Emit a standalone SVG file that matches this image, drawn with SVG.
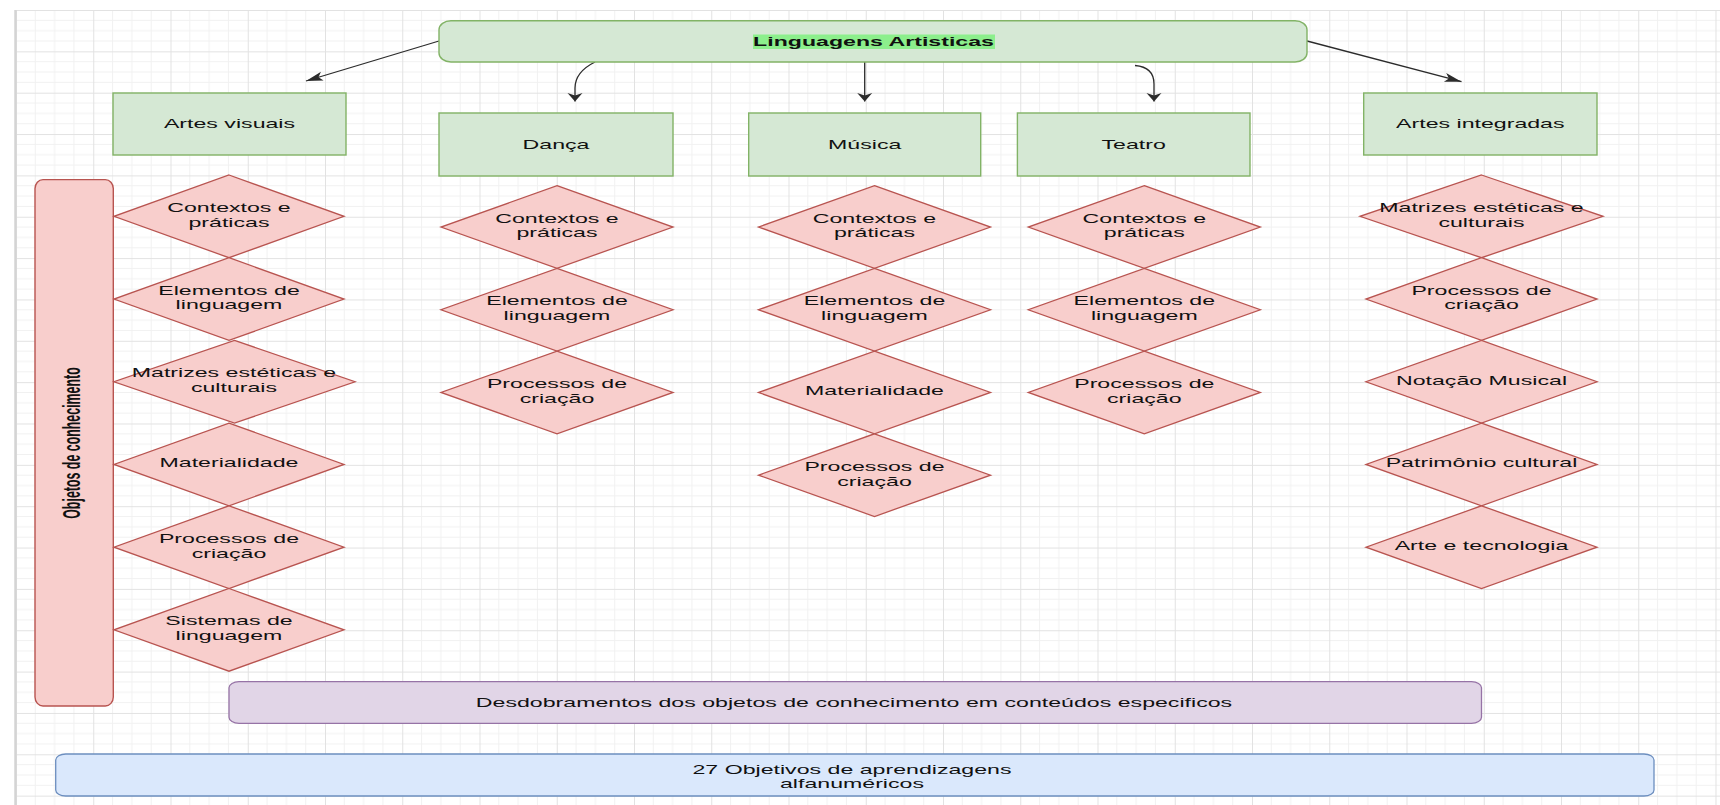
<svg xmlns="http://www.w3.org/2000/svg" width="1720" height="805" viewBox="0 0 1720 805">
<defs>
<pattern id="grid" x="16" y="10" width="77.25" height="41.35" patternUnits="userSpaceOnUse">
<path d="M19.31 0V41.35M38.63 0V41.35M57.94 0V41.35M0 10.34H77.25M0 20.68H77.25M0 31.01H77.25" stroke="#f1f1f1" stroke-width="1" fill="none"/>
<path d="M0.5 0V41.35M0 0.5H77.25" stroke="#e2e2e2" stroke-width="1" fill="none"/>
</pattern>
<marker id="arrV" viewBox="-10 -8 11 16" refX="0" refY="0" markerWidth="11" markerHeight="16" markerUnits="userSpaceOnUse" orient="auto">
<path d="M0 0L-8.5 -7.5L-6 0L-8.5 7.5Z" fill="#2b2b2b"/>
</marker>
<marker id="arrD" viewBox="-20 -6 21 12" refX="0" refY="0" markerWidth="21" markerHeight="12" markerUnits="userSpaceOnUse" orient="auto">
<path d="M0 0L-17 -4.5L-13 0L-17 4.5Z" fill="#2b2b2b"/>
</marker>
<style>
.t{font-family:'Liberation Sans',Arial,sans-serif;font-size:12px;fill:#111;text-anchor:middle}
.b{font-weight:bold}
.g{fill:#d5e8d4;stroke:#82b366;stroke-width:1.4}
.d{fill:#f8cecc;stroke:#b85450;stroke-width:1.3}
.p{fill:#e1d5e7;stroke:#9673a6;stroke-width:1.3}
.bl{fill:#dae8fc;stroke:#6c8ebf;stroke-width:1.3}
</style>
</defs>
<rect width="1720" height="805" fill="#fff"/>
<rect x="16" y="10" width="1704" height="795" fill="url(#grid)"/>
<line x1="15.5" y1="10" x2="15.5" y2="805" stroke="#d4d4d4" stroke-width="2.5"/>

<g id="connectors" fill="none" stroke="#2b2b2b" stroke-width="1.3">
<path d="M439 41L306 81" marker-end="url(#arrD)"/>
<path d="M595 62Q575 72 575 88L575 101.5" marker-end="url(#arrV)"/>
<path d="M864.7 62L864.7 101.5" marker-end="url(#arrV)"/>
<path d="M1135 65.5Q1154 67 1154 84L1154 101.5" marker-end="url(#arrV)"/>
<path d="M1307 41L1461.5 81.7" marker-end="url(#arrD)"/>
</g>

<g id="linguagens">
<rect class="g" x="439" y="20.7" width="868" height="41.3" rx="12" ry="9"/>
<rect x="753" y="34.5" width="242" height="14.5" fill="#8cef8c"/>
<text class="t b" transform="translate(873.5 41.7) scale(1.93 1.034)" y="4.2">Linguagens Artisticas</text>
</g>

<g id="artes-visuais">
<rect class="g" x="113" y="93" width="233" height="62"/>
<text class="t" transform="translate(229.5 124) scale(1.93 1.034)" y="4.2">Artes visuais</text>
</g>
<g id="danca">
<rect class="g" x="439" y="113" width="234" height="63"/>
<text class="t" transform="translate(556 144.5) scale(1.93 1.034)" y="4.2">Dança</text>
</g>
<g id="musica">
<rect class="g" x="748.7" y="113" width="232" height="63"/>
<text class="t" transform="translate(864.7 144.5) scale(1.93 1.034)" y="4.2">Música</text>
</g>
<g id="teatro">
<rect class="g" x="1017.4" y="113" width="232.6" height="63"/>
<text class="t" transform="translate(1133.7 144.5) scale(1.93 1.034)" y="4.2">Teatro</text>
</g>
<g id="artes-integradas">
<rect class="g" x="1363.7" y="93" width="233.3" height="62"/>
<text class="t" transform="translate(1480.3 124) scale(1.93 1.034)" y="4.2">Artes integradas</text>
</g>

<g id="objetos-conhecimento">
<rect x="35" y="179.6" width="78.3" height="526.4" rx="8" ry="9" fill="#f8cecc" stroke="#b85450" stroke-width="1.4"/>
<text class="t b" transform="translate(72 443) rotate(-90) scale(1.034 1.93)" y="4.2">Objetos de conhecimento</text>
</g>

<!-- Artes visuais diamonds -->
<g id="av-contextos">
<polygon class="d" points="229,175 344,216.35 229,257.7 114,216.35"/>
<text class="t" transform="translate(229 215) scale(1.93 1.034)"><tspan x="0" y="-3">Contextos e</tspan><tspan x="0" y="11.4">práticas</tspan></text>
</g>
<g id="av-elementos">
<polygon class="d" points="229,257.7 344,299.05 229,340.4 114,299.05"/>
<text class="t" transform="translate(229 297.7) scale(1.93 1.034)"><tspan x="0" y="-3">Elementos de</tspan><tspan x="0" y="11.4">linguagem</tspan></text>
</g>
<g id="av-matrizes">
<polygon class="d" points="234.5,340.4 355,381.75 234.5,423.1 114,381.75"/>
<text class="t" transform="translate(234 380.5) scale(1.93 1.034)"><tspan x="0" y="-3">Matrizes estéticas e</tspan><tspan x="0" y="11.4">culturais</tspan></text>
</g>
<g id="av-materialidade">
<polygon class="d" points="229,423.1 344,464.45 229,505.8 114,464.45"/>
<text class="t" transform="translate(229 463.1) scale(1.93 1.034)" y="4.2">Materialidade</text>
</g>
<g id="av-processos">
<polygon class="d" points="229,505.8 344,547.15 229,588.5 114,547.15"/>
<text class="t" transform="translate(229 545.8) scale(1.93 1.034)"><tspan x="0" y="-3">Processos de</tspan><tspan x="0" y="11.4">criação</tspan></text>
</g>
<g id="av-sistemas">
<polygon class="d" points="229,588.5 344,629.85 229,671.2 114,629.85"/>
<text class="t" transform="translate(229 628.5) scale(1.93 1.034)"><tspan x="0" y="-3">Sistemas de</tspan><tspan x="0" y="11.4">linguagem</tspan></text>
</g>

<!-- Dança diamonds -->
<g id="da-contextos">
<polygon class="d" points="557,185.7 673,227.05 557,268.4 441,227.05"/>
<text class="t" transform="translate(557 225.7) scale(1.93 1.034)"><tspan x="0" y="-3">Contextos e</tspan><tspan x="0" y="11.4">práticas</tspan></text>
</g>
<g id="da-elementos">
<polygon class="d" points="557,268.4 673,309.75 557,351.1 441,309.75"/>
<text class="t" transform="translate(557 308.4) scale(1.93 1.034)"><tspan x="0" y="-3">Elementos de</tspan><tspan x="0" y="11.4">linguagem</tspan></text>
</g>
<g id="da-processos">
<polygon class="d" points="557,351.1 673,392.45 557,433.8 441,392.45"/>
<text class="t" transform="translate(557 391.1) scale(1.93 1.034)"><tspan x="0" y="-3">Processos de</tspan><tspan x="0" y="11.4">criação</tspan></text>
</g>

<!-- Música diamonds -->
<g id="mu-contextos">
<polygon class="d" points="874.5,185.7 990.5,227.05 874.5,268.4 758.5,227.05"/>
<text class="t" transform="translate(874.5 225.7) scale(1.93 1.034)"><tspan x="0" y="-3">Contextos e</tspan><tspan x="0" y="11.4">práticas</tspan></text>
</g>
<g id="mu-elementos">
<polygon class="d" points="874.5,268.4 990.5,309.75 874.5,351.1 758.5,309.75"/>
<text class="t" transform="translate(874.5 308.4) scale(1.93 1.034)"><tspan x="0" y="-3">Elementos de</tspan><tspan x="0" y="11.4">linguagem</tspan></text>
</g>
<g id="mu-materialidade">
<polygon class="d" points="874.5,351.1 990.5,392.45 874.5,433.8 758.5,392.45"/>
<text class="t" transform="translate(874.5 391.1) scale(1.93 1.034)" y="4.2">Materialidade</text>
</g>
<g id="mu-processos">
<polygon class="d" points="874.5,433.8 990.5,475.15 874.5,516.5 758.5,475.15"/>
<text class="t" transform="translate(874.5 473.8) scale(1.93 1.034)"><tspan x="0" y="-3">Processos de</tspan><tspan x="0" y="11.4">criação</tspan></text>
</g>

<!-- Teatro diamonds -->
<g id="te-contextos">
<polygon class="d" points="1144.3,185.7 1260.3,227.05 1144.3,268.4 1028.3,227.05"/>
<text class="t" transform="translate(1144.3 225.7) scale(1.93 1.034)"><tspan x="0" y="-3">Contextos e</tspan><tspan x="0" y="11.4">práticas</tspan></text>
</g>
<g id="te-elementos">
<polygon class="d" points="1144.3,268.4 1260.3,309.75 1144.3,351.1 1028.3,309.75"/>
<text class="t" transform="translate(1144.3 308.4) scale(1.93 1.034)"><tspan x="0" y="-3">Elementos de</tspan><tspan x="0" y="11.4">linguagem</tspan></text>
</g>
<g id="te-processos">
<polygon class="d" points="1144.3,351.1 1260.3,392.45 1144.3,433.8 1028.3,392.45"/>
<text class="t" transform="translate(1144.3 391.1) scale(1.93 1.034)"><tspan x="0" y="-3">Processos de</tspan><tspan x="0" y="11.4">criação</tspan></text>
</g>

<!-- Artes integradas diamonds -->
<g id="ai-matrizes">
<polygon class="d" points="1481.5,175 1603,216.35 1481.5,257.7 1360,216.35"/>
<text class="t" transform="translate(1481.5 215) scale(1.93 1.034)"><tspan x="0" y="-3">Matrizes estéticas e</tspan><tspan x="0" y="11.4">culturais</tspan></text>
</g>
<g id="ai-processos">
<polygon class="d" points="1481.5,257.7 1597,299.05 1481.5,340.4 1366,299.05"/>
<text class="t" transform="translate(1481.5 297.7) scale(1.93 1.034)"><tspan x="0" y="-3">Processos de</tspan><tspan x="0" y="11.4">criação</tspan></text>
</g>
<g id="ai-notacao">
<polygon class="d" points="1481.5,340.4 1597,381.75 1481.5,423.1 1366,381.75"/>
<text class="t" transform="translate(1481.5 380.4) scale(1.93 1.034)" y="4.2">Notação Musical</text>
</g>
<g id="ai-patrimonio">
<polygon class="d" points="1481.5,423.1 1597,464.45 1481.5,505.8 1366,464.45"/>
<text class="t" transform="translate(1481.5 463.1) scale(1.93 1.034)" y="4.2">Patrimônio cultural</text>
</g>
<g id="ai-arte-tecnologia">
<polygon class="d" points="1481.5,505.8 1597,547.15 1481.5,588.5 1366,547.15"/>
<text class="t" transform="translate(1481.5 545.8) scale(1.93 1.034)" y="4.2">Arte e tecnologia</text>
</g>

<g id="desdobramentos">
<rect class="p" x="229" y="681.7" width="1252.5" height="41.6" rx="10" ry="6"/>
<text class="t" transform="translate(854 703) scale(1.93 1.034)" y="4.2">Desdobramentos dos objetos de conhecimento em conteúdos especificos</text>
</g>

<g id="objetivos">
<rect class="bl" x="55.7" y="754" width="1598.3" height="42" rx="10" ry="6"/>
<text class="t" transform="translate(852 776.5) scale(1.93 1.034)"><tspan x="0" y="-2.6">27 Objetivos de aprendizagens</tspan><tspan x="0" y="11">alfanuméricos</tspan></text>
</g>
</svg>
